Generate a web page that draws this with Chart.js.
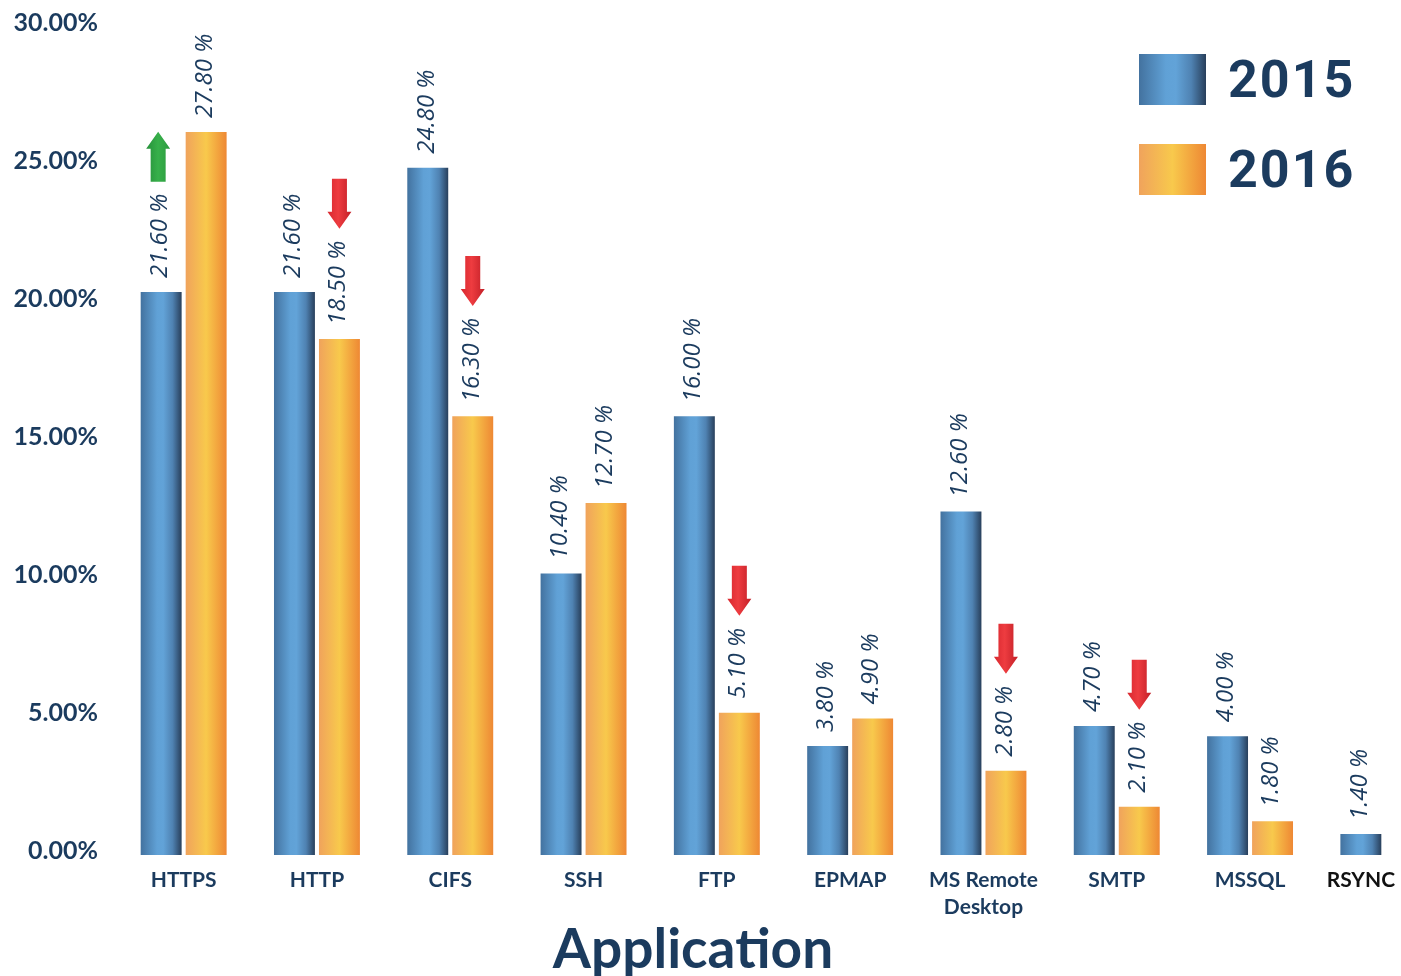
<!DOCTYPE html>
<html>
<head>
<meta charset="utf-8">
<script src="https://cdn.jsdelivr.net/npm/chart.js@4.4.1/dist/chart.umd.min.js"></script>
<style>
  html, body { margin: 0; padding: 0; background: #fff; overflow: hidden; }
  #wrap { position: absolute; left: 0; top: 0; width: 1450px; height: 976px; }
</style>
</head>
<body>
<div id="wrap"><canvas id="barChart" width="1450" height="976"></canvas></div>
<script>
var categories = [["HTTPS"], ["HTTP"], ["CIFS"], ["SSH"], ["FTP"], ["EPMAP"], ["MS Remote", "Desktop"], ["SMTP"], ["MSSQL"], ["RSYNC"]];
var seriesNames = ["2015", "2016"];

// bar heights as drawn in the picture
var values2015 = [20.4, 20.4, 24.9, 10.2, 15.9, 3.95, 12.45, 4.67, 4.3, 0.76];
var values2016 = [26.2, 18.7, 15.9, 12.75, 5.15, 4.95, 3.05, 1.75, 1.22, null];

// printed labels
var labels2015 = [21.6, 21.6, 24.8, 10.4, 16.0, 3.8, 12.6, 4.7, 4.0, 1.4];
var labels2016 = [27.8, 18.5, 16.3, 12.7, 5.1, 4.9, 2.8, 2.1, 1.8, null];

// trend arrows over the labels
var arrows2015 = ["up", null, null, null, null, null, null, null, null, null];
var arrows2016 = [null, "down", "down", null, "down", null, "down", "down", null, null];

var yMax = 30;
var yStep = 5;
var axisTitle = "Application";

var navy = "#1b3b5e";
var blueStops = [[0, "#43729f"], [0.4, "#60a1d6"], [0.55, "#62a3d8"], [0.78, "#4f82b2"], [1, "#283f5b"]];
var orangeStops = [[0, "#f0a35c"], [0.5, "#f8c94c"], [1, "#ee8834"]];

function hGradient(ctx, left, width, stops) {
  var g = ctx.createLinearGradient(left, 0, left + width, 0);
  stops.forEach(function (s) { g.addColorStop(s[0], s[1]); });
  return g;
}

function drawArrow(ctx, cx, bottom, dir) {
  var h = 50, shaftW = 15, headW = 24, headH = 17;
  var top = bottom - h;
  var stops = dir === "up"
    ? [[0, "#26903a"], [0.5, "#37b04a"], [1, "#2c9a3f"]]
    : [[0, "#d8282f"], [0.45, "#ee3c40"], [1, "#c21f27"]];
  ctx.save();
  ctx.fillStyle = hGradient(ctx, cx - headW / 2, headW, stops);
  ctx.beginPath();
  if (dir === "up") {
    ctx.moveTo(cx, top);
    ctx.lineTo(cx + headW / 2, top + headH);
    ctx.lineTo(cx + shaftW / 2, top + headH);
    ctx.lineTo(cx + shaftW / 2, bottom);
    ctx.lineTo(cx - shaftW / 2, bottom);
    ctx.lineTo(cx - shaftW / 2, top + headH);
    ctx.lineTo(cx - headW / 2, top + headH);
  } else {
    ctx.moveTo(cx - shaftW / 2, top);
    ctx.lineTo(cx + shaftW / 2, top);
    ctx.lineTo(cx + shaftW / 2, bottom - headH);
    ctx.lineTo(cx + headW / 2, bottom - headH);
    ctx.lineTo(cx, bottom);
    ctx.lineTo(cx - headW / 2, bottom - headH);
    ctx.lineTo(cx - shaftW / 2, bottom - headH);
  }
  ctx.closePath();
  ctx.fill();
  ctx.restore();
}

var decorPlugin = {
  id: "decor",
  beforeDatasetDraw: function (chart, args) {
    var ctx = chart.ctx;
    var stops = args.index === 0 ? blueStops : orangeStops;
    args.meta.data.forEach(function (bar) {
      var left = bar.x - bar.width / 2;
      bar.options = Object.assign({}, bar.options, { backgroundColor: hGradient(ctx, left, bar.width, stops) });
    });
  },
  afterDatasetsDraw: function (chart) {
    var ctx = chart.ctx;
    var labelSets = [labels2015, labels2016];
    var arrowSets = [arrows2015, arrows2016];
    var valueSets = [values2015, values2016];

    // value labels + arrows
    ctx.save();
    ctx.font = "italic 24px 'Open Sans'";
    ctx.fillStyle = navy;
    ctx.textAlign = "left";
    ctx.textBaseline = "middle";
    for (var d = 0; d < 2; d++) {
      var meta = chart.getDatasetMeta(d);
      meta.data.forEach(function (bar, i) {
        var v = labelSets[d][i];
        if (v === null || valueSets[d][i] === null) return;
        var text = v.toFixed(2) + " %";
        var start = bar.y - 14;
        ctx.save();
        ctx.translate(bar.x - 1, start);
        ctx.rotate(-Math.PI / 2);
        ctx.fillText(text, 0, 0);
        ctx.restore();
        var w = ctx.measureText(text).width;
        var dir = arrowSets[d][i];
        if (dir) drawArrow(ctx, bar.x + (dir === "up" ? -3 : 0), start - w - 12, dir);
      });
    }
    ctx.restore();

    // category labels, centred under the bars actually drawn
    ctx.save();
    ctx.font = "bold 21px Lato";
    ctx.textAlign = "center";
    ctx.textBaseline = "middle";
    categories.forEach(function (lines, i) {
      var xs = [];
      for (var d = 0; d < 2; d++) {
        if (valueSets[d][i] !== null) xs.push(chart.getDatasetMeta(d).data[i].x);
      }
      var cx = xs.reduce(function (a, b) { return a + b; }, 0) / xs.length;
      ctx.fillStyle = i === categories.length - 1 ? "#111111" : navy;
      lines.forEach(function (line, k) {
        ctx.fillText(line, cx, chart.chartArea.bottom + 25 + k * 27);
      });
    });
    ctx.restore();

    // legend
    ctx.save();
    var boxes = [[54, blueStops], [144, orangeStops]];
    ctx.font = "bold 52px Roboto";
    ctx.letterSpacing = "2px";
    ctx.textAlign = "left";
    ctx.textBaseline = "alphabetic";
    boxes.forEach(function (b, k) {
      ctx.fillStyle = hGradient(ctx, 1139, 67, b[1]);
      ctx.fillRect(1139, b[0], 67, 51);
      ctx.fillStyle = navy;
      ctx.fillText(seriesNames[k], 1228, b[0] + 43);
    });
    ctx.restore();

    // axis title
    ctx.save();
    ctx.font = "bold 55px Lato";
    ctx.fillStyle = navy;
    ctx.textAlign = "center";
    ctx.textBaseline = "alphabetic";
    ctx.fillText(axisTitle, 693, 968);
    ctx.restore();
  }
};

var ctx = document.getElementById("barChart").getContext("2d");
var myChart = new Chart(ctx, {
  type: "bar",
  data: {
    labels: categories,
    datasets: [
      { label: seriesNames[0], data: values2015, backgroundColor: "#5b9bd0" },
      { label: seriesNames[1], data: values2016, backgroundColor: "#f6bb4c" }
    ]
  },
  options: {
    responsive: false,
    animation: false,
    categoryPercentage: 0.675,
    barPercentage: 0.91,
    layout: { padding: { top: 27, bottom: 121, left: 0, right: 0 } },
    scales: {
      x: { display: false },
      y: {
        min: 0,
        max: yMax,
        grid: { display: false, drawTicks: false },
        border: { display: false },
        afterFit: function (scale) {
          scale.width = 117;
          scale.paddingTop = 0;
          scale.paddingBottom = 0;
        },
        ticks: {
          stepSize: yStep,
          padding: 19,
          labelOffset: -4,
          color: navy,
          font: { family: "Lato", size: 25, weight: "bold" },
          callback: function (v) { return v.toFixed(2) + "%"; }
        }
      }
    },
    plugins: {
      legend: { display: false },
      tooltip: { enabled: false }
    }
  },
  plugins: [decorPlugin]
});
</script>
</body>
</html>
